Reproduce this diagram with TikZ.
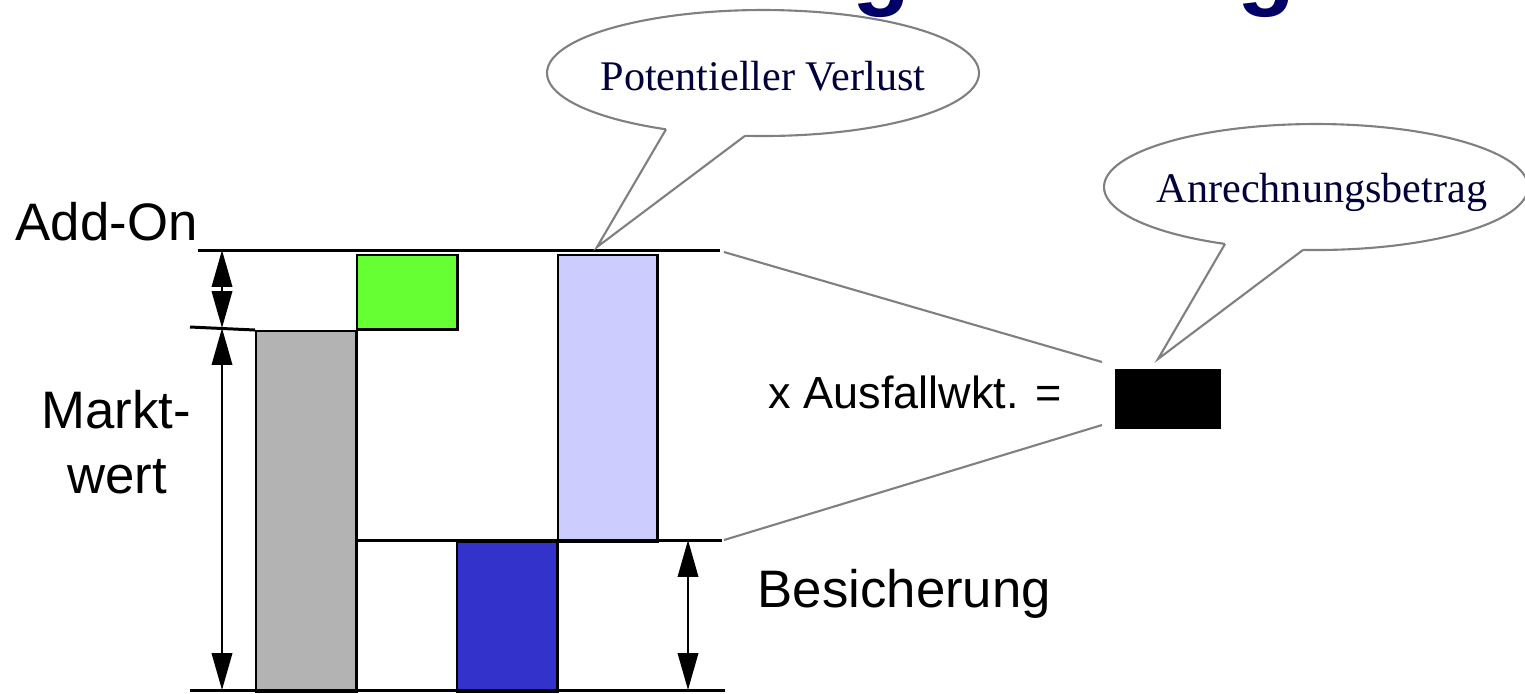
\documentclass[tikz,border=0pt]{standalone}
\usepackage{fontspec}
\setmainfont{Liberation Sans}
\newfontfamily\calloutfont{Liberation Serif}
\usetikzlibrary{arrows.meta}
\definecolor{titlenavy}{HTML}{000066}
\definecolor{callnavy}{HTML}{00003A}
\definecolor{barGray}{HTML}{B3B3B3}
\definecolor{barGreen}{HTML}{66FF33}
\definecolor{barLight}{HTML}{CCCCFF}
\definecolor{barBlue}{HTML}{3333CC}
\definecolor{lineGray}{HTML}{808080}
\begin{document}
\begin{tikzpicture}[x=0.01cm,y=-0.01cm,
  lbl/.style={font=\fontsize{15}{18}\selectfont, inner sep=0},
  smalllbl/.style={font=\fontsize{12.8}{15}\selectfont, inner sep=0},
  calltext/.style={font=\calloutfont\fontsize{12}{14}\selectfont, text=callnavy, inner sep=0},
  bar/.style={draw=black, line width=0.7pt, anchor=north west, inner sep=0},
  refline/.style={line width=0.85pt, black},
  dimarrow/.style={line width=0.65pt, {Triangle[length=10.5pt,width=5.8pt]}-{Triangle[length=10.5pt,width=5.8pt]}},
  grayline/.style={draw=lineGray, line width=0.6pt},
  callout/.style={draw=lineGray, line width=0.6pt},
  titleglyph/.style={font=\bfseries\fontsize{27}{30}\selectfont, text=titlenavy, inner sep=0, anchor=base}
]
\useasboundingbox (0,0) rectangle (1525,693);

% partial title glyphs (cut off at the top)
\node[titleglyph] (tg1) at (881,-3) {g};
\node[titleglyph] (tg2) at (1266,-3) {g};

% bars
\node[bar, fill=barGray,  minimum width=1cm,  minimum height=3.6cm]  (gray)  at (255,330) {};
\node[bar, fill=barGreen, minimum width=1cm,  minimum height=0.74cm] (green) at (356,254) {};
\node[bar, fill=barLight, minimum width=0.99cm, minimum height=2.86cm] (light) at (557,254) {};
\node[bar, fill=barBlue,  minimum width=1cm,  minimum height=1.49cm] (blue)  at (456,541) {};
\node[bar, fill=black,    minimum width=1.03cm, minimum height=0.57cm] (blk) at (1115,369) {};

% reference lines
\coordinate (topL) at (198,250);
\coordinate (topR) at (720,250);
\coordinate (midL) at (190,327);
\coordinate (colL) at (355,540);
\coordinate (colR) at (722,540);
\coordinate (botL) at (190,690);
\coordinate (botR) at (725,690);
\draw[refline] (topL) -- (topR);
\draw[refline] (midL) -- (gray.north west);
\draw[refline] (colL) -- (colR);
\draw[refline] (botL) -- (botR);

% dimension arrows
\coordinate (a1) at (222,250);
\coordinate (a2) at (222,328);
\coordinate (a3) at (222,690);
\coordinate (b1) at (688,540);
\coordinate (b2) at (688,690);
\draw[dimarrow] (a1) -- (a2);
\draw[dimarrow] (a2) -- (a3);
\draw[dimarrow] (b1) -- (b2);

% gray projection lines
\coordinate (g1s) at (724,252);
\coordinate (g1e) at (1102,362);
\coordinate (g2s) at (724,540);
\coordinate (g2e) at (1102,425);
\draw[grayline] (g1s) -- (g1e);
\draw[grayline] (g2s) -- (g2e);

% labels
\node[lbl, anchor=base west] (addon) at (15,240) {Add-On};
\node[lbl, anchor=base] (markt) at (116,428) {Markt-};
\node[lbl, anchor=base] (wert) at (117,493) {wert};
\node[lbl, anchor=base west] (besich) at (757,607) {Besicherung};
\node[smalllbl, anchor=base west] (ausfall) at (768,408) {x Ausfallwkt. =};

% callout 1
\fill[white] (763,73) ellipse [x radius=216, y radius=63];
\draw[callout] (763,73) ellipse [x radius=216, y radius=63];
\coordinate (c1a) at (666,129.3);
\coordinate (c1tip) at (597,247);
\coordinate (c1b) at (745,135.8);
\fill[white] (666,122) -- (c1a) -- (c1tip) -- (c1b) -- (745,128) -- cycle;
\draw[callout, line join=miter] (c1a) -- (c1tip) -- (c1b);
\node[calltext, anchor=base] (pv) at (763,90) {Potentieller Verlust};

% callout 2
\fill[white] (1316,187) ellipse [x radius=212, y radius=63];
\draw[callout] (1316,187) ellipse [x radius=212, y radius=63];
\coordinate (c2a) at (1225,243.9);
\coordinate (c2tip) at (1158,359);
\coordinate (c2b) at (1303,249.9);
\fill[white] (1225,236) -- (c2a) -- (c2tip) -- (c2b) -- (1303,242) -- cycle;
\draw[callout, line join=miter] (c2a) -- (c2tip) -- (c2b);
\node[calltext, anchor=base] (ab) at (1322,202) {Anrechnungsbetrag};
\end{tikzpicture}
\end{document}
